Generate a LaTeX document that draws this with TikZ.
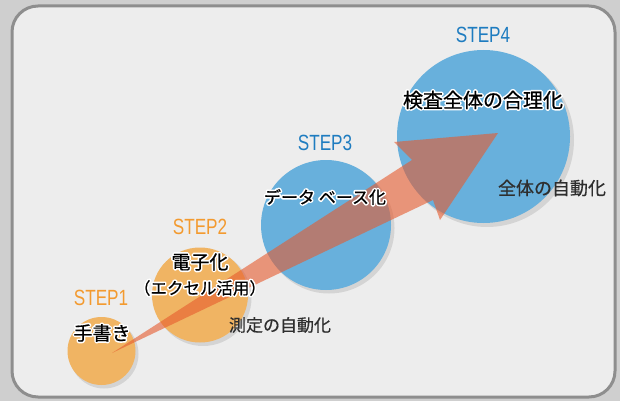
\documentclass[tikz,border=0pt]{standalone}
\usepackage{fontspec}
\setmainfont{Noto Sans CJK JP}
\newfontfamily\jpfont[FakeBold=0.6]{Noto Sans CJK JP}
\newfontfamily\stepfont[FakeStretch=0.78]{Liberation Sans}
\usetikzlibrary{shapes.geometric}
\definecolor{bgout}{HTML}{CFCFCF}
\definecolor{bgin}{HTML}{EDEDED}
\definecolor{framec}{HTML}{8E8E8E}
\definecolor{orangec}{HTML}{F0B463}
\definecolor{bluec}{HTML}{68B0DC}
\definecolor{steporange}{HTML}{F39A2F}
\definecolor{stepblue}{HTML}{1E7CC0}
\definecolor{arrowc}{HTML}{E65A2D}
\definecolor{darktext}{HTML}{2E2E2E}
\newcommand{\haloline}[1]{\special{pdf:literal direct 1 Tr 1 j 3.4 w 1 1 1 RG}#1\special{pdf:literal direct 0 Tr}}
\tikzset{
  blob/.style={ellipse, inner sep=0pt, draw=none},
  orangeblob/.style={blob, fill=orangec},
  blueblob/.style={blob, fill=bluec},
  blobshadow/.style={ellipse, inner sep=0pt, fill=black, opacity=0.10},
  steplabel/.style={font=\stepfont\fontsize{22}{24}\selectfont, inner sep=0pt},
  halotext/.style={font=\fontsize{#1}{#1}\selectfont, text=black, inner sep=0pt},
  jptext/.style={font=\jpfont\fontsize{#1}{#1}\selectfont, text=black, inner sep=0pt},
  plaintext/.style={font=\jpfont\fontsize{#1}{#1}\selectfont, text=darktext, inner sep=0pt},
}
\begin{document}
\begin{tikzpicture}[x=1pt,y=-1pt]
\useasboundingbox (0,0) rectangle (620,401);
\fill[bgout] (0,0) rectangle (620,401);
\draw[framec, line width=3pt, fill=bgin, rounded corners=26pt] (12,6) rectangle (615,397);

% shadows
\node[blobshadow, minimum width=69pt, minimum height=69pt] (s1) at (104,354) {};
\node[blobshadow, minimum width=97pt, minimum height=96pt] (s2) at (203,298) {};
\node[blobshadow, minimum width=131pt, minimum height=131pt] (s3) at (329,228) {};
\node[blobshadow, minimum width=174pt, minimum height=174pt] (s4) at (487,140) {};

% circles
\node[orangeblob, minimum width=68pt, minimum height=68pt] (c1) at (101.5,351) {};
\node[orangeblob, minimum width=96pt, minimum height=95pt] (c2) at (200,295) {};
\node[blueblob, minimum width=130pt, minimum height=130pt] (c3) at (326,225) {};
\node[blueblob, minimum width=173pt, minimum height=173pt] (c4) at (483.5,136.5) {};

% arrow
\coordinate (tail) at (112,353);
\coordinate (tip) at (498,133);
\fill[arrowc, opacity=0.6] (tail) -- (412,160) -- (394,142) -- (tip) -- (440,220) -- (433,200) -- cycle;

% step labels
\node[steplabel, text=steporange] (st1) at (101,298) {STEP1};
\node[steplabel, text=steporange] (st2) at (200,227) {STEP2};
\node[steplabel, text=stepblue] (st3) at (325,143) {STEP3};
\node[steplabel, text=stepblue] (st4) at (483,35) {STEP4};

% white halos
\node[halotext=19] (h1) at (102,333) {\haloline{手書き}};
\node[halotext=19] (h2a) at (200,262) {\haloline{電子化}};
\node[halotext=16.5] (h2b) at (200,288) {\haloline{（エクセル活用）}};
\node[halotext=17] (h3) at (325,197) {\haloline{データ ベース化}};
\node[halotext=20] (h4) at (483,100) {\haloline{検査全体の合理化}};
% texts
\node[jptext=19] (t1) at (102,333) {手書き};
\node[jptext=19] (t2a) at (200,262) {電子化};
\node[jptext=16.5] (t2b) at (200,288) {（エクセル活用）};
\node[jptext=17] (t3) at (325,197) {データ ベース化};
\node[jptext=20] (t4) at (483,100) {検査全体の合理化};
\node[plaintext=17] (a2) at (280,325) {測定の自動化};
\node[plaintext=18] (a4) at (552,188) {全体の自動化};
\end{tikzpicture}
\end{document}
